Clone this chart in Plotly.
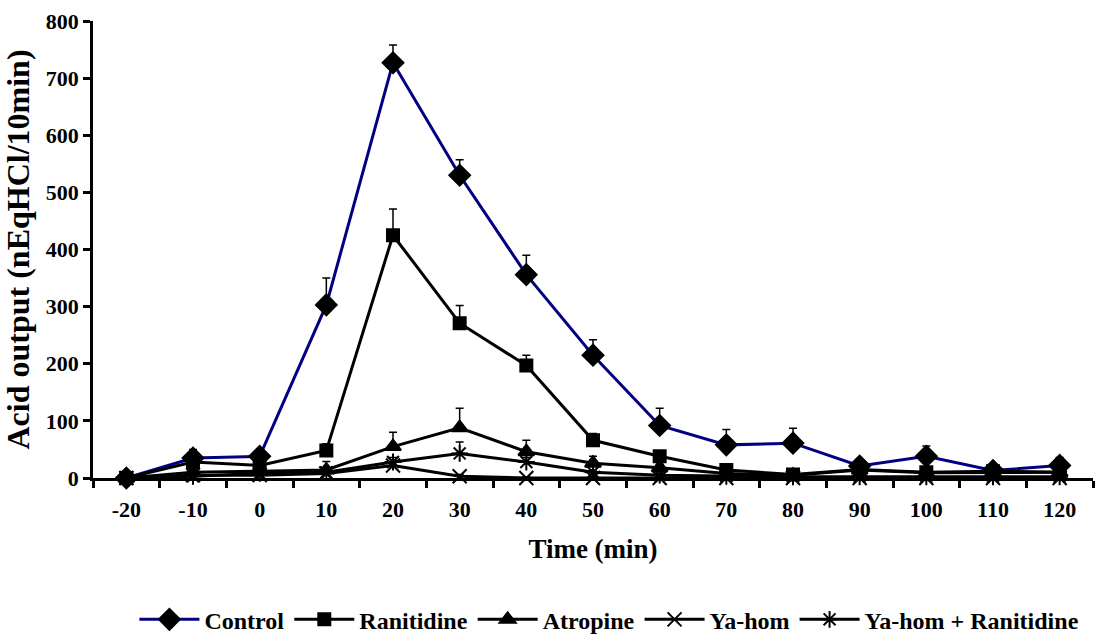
import plotly.graph_objects as go

# Sampling times (min)
time_min = [-20, -10, 0, 10, 20, 30, 40, 50, 60, 70, 80, 90, 100, 110, 120]

# Acid output (nEq HCl / 10 min), mean and upper SEM
control = [0, 35, 38, 303, 727, 530, 356, 215, 92, 58, 61, 21, 38, 13, 22]
control_err = [4, 15, 12, 47, 31, 27, 34, 27, 30, 27, 26, 12, 18, 10, 14]

ranitidine = [0, 28, 22, 48, 425, 271, 197, 66, 38, 14, 6, 15, 10, 12, 10]
ranitidine_err = [3, 8, 6, 12, 46, 31, 18, 12, 8, 5, 4, 5, 4, 4, 4]

atropine = [0, 10, 12, 14, 55, 88, 46, 26, 18, 8, 5, 14, 9, 10, 10]
atropine_err = [3, 5, 5, 15, 25, 34, 20, 12, 6, 4, 3, 4, 3, 3, 3]

yahom = [0, 5, 5, 8, 22, 3, 0, 0, 0, 0, 0, 0, 0, 0, 0]
yahom_err = [2, 3, 3, 3, 6, 3, 2, 2, 2, 2, 2, 2, 2, 2, 2]

yahom_ranitidine = [0, 3, 8, 10, 28, 43, 28, 10, 5, 3, 2, 2, 2, 2, 2]
yahom_ranitidine_err = [2, 3, 4, 4, 8, 20, 8, 4, 3, 2, 2, 2, 2, 2, 2]

y_ticks = [0, 100, 200, 300, 400, 500, 600, 700, 800]

FONT = "Liberation Serif"

series = [
    ("Control", control, control_err, "#000080", "diamond", 16),
    ("Ranitidine", ranitidine, ranitidine_err, "black", "square", 12),
    ("Atropine", atropine, atropine_err, "black", "triangle-up", 14),
    ("Ya-hom", yahom, yahom_err, "black", "x-thin-open", 14),
    ("Ya-hom + Ranitidine", yahom_ranitidine, yahom_ranitidine_err, "black", "asterisk-open", 14),
]

fig = go.Figure()
for name, vals, err, lcolor, symbol, size in series:
    fig.add_trace(go.Scatter(
        x=time_min, y=vals, name=name, mode="lines+markers",
        line=dict(color=lcolor, width=3),
        marker=dict(symbol=symbol, size=size, color="black",
                    line=dict(color="black", width=2)),
        error_y=dict(type="data", symmetric=False, array=err,
                     arrayminus=[0] * len(err), color="black",
                     thickness=1.5, width=4),
        cliponaxis=False,
    ))

fig.update_layout(
    width=1102, height=635,
    margin=dict(l=93, r=9, t=19, b=157),
    paper_bgcolor="white", plot_bgcolor="white",
    font=dict(family=FONT, color="black"),
    showlegend=True,
    legend=dict(orientation="h", x=0.553, xanchor="center", xref="container",
                y=0.024, yanchor="middle", yref="container",
                font=dict(family=FONT, size=24, color="black", weight="bold"),
                itemwidth=60, tracegroupgap=0),
    xaxis=dict(
        range=[-25, 125], tickvals=time_min, ticktext=[str(t) for t in time_min],
        ticks="", showline=True, linecolor="black", linewidth=2.5,
        showgrid=False, zeroline=False, ticklabelstandoff=10,
        tickfont=dict(family=FONT, size=22, color="black", weight="bold"),
        minor=dict(tick0=-25, dtick=10, ticks="outside", ticklen=7,
                   tickwidth=2.5, tickcolor="black", showgrid=False),
        title=dict(text="Time (min)", standoff=18,
                   font=dict(family=FONT, size=27, color="black", weight="bold")),
    ),
    yaxis=dict(
        range=[0, 800], tickvals=y_ticks, ticks="outside", ticklen=7,
        tickwidth=2.5, tickcolor="black", showline=True, linecolor="black",
        linewidth=2.5, showgrid=False, zeroline=False,
        tickfont=dict(family=FONT, size=22, color="black", weight="bold"),
        title=dict(text="Acid output (nEqHCl/10min)", standoff=9,
                   font=dict(family=FONT, size=32, color="black", weight="bold")),
    ),
)

fig.write_html("out.html")
